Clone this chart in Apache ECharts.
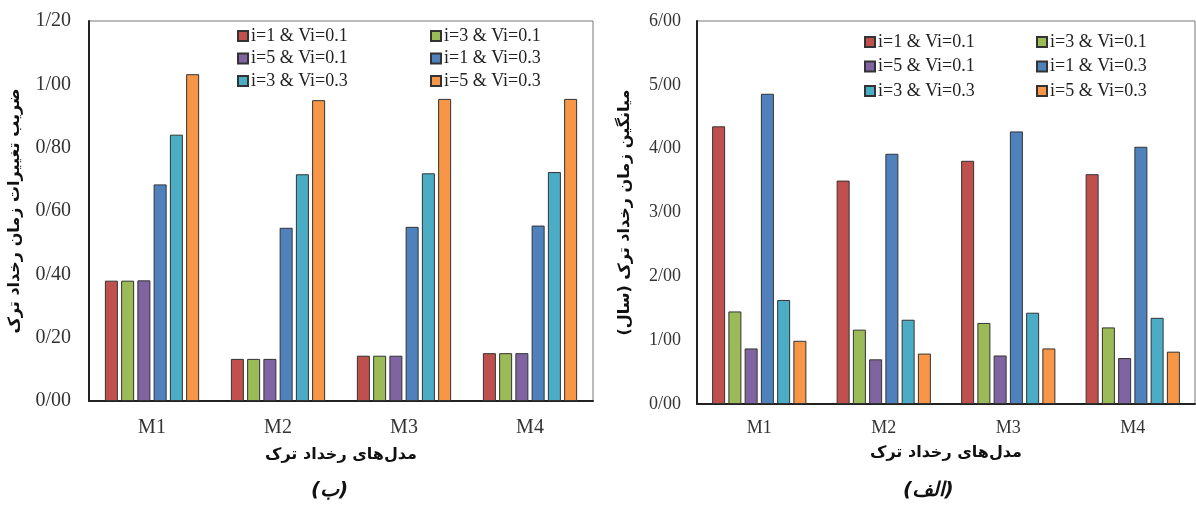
<!DOCTYPE html>
<html>
<head>
<meta charset="utf-8">
<script src="https://cdn.jsdelivr.net/npm/echarts@6/dist/echarts.min.js"></script>
<style>
  html, body { margin: 0; padding: 0; background: #fff; }
  #chart { width: 1196px; height: 507px; }
</style>
</head>
<body>
<div id="chart"></div>
<script>
// categories / series
const categories = ['M1', 'M2', 'M3', 'M4']
const seriesNames = ['i=1 & Vi=0.1', 'i=3 & Vi=0.1', 'i=5 & Vi=0.1', 'i=1 & Vi=0.3', 'i=3 & Vi=0.3', 'i=5 & Vi=0.3']
const barColors = ['#C0504D', '#9BBB59', '#8064A2', '#4F81BD', '#4BACC6', '#F79646']

// (ب) coefficient of variation
const cvS1 = [0.380, 0.133, 0.143, 0.151]
const cvS2 = [0.380, 0.133, 0.143, 0.151]
const cvS3 = [0.381, 0.133, 0.143, 0.151]
const cvS4 = [0.684, 0.547, 0.550, 0.554]
const cvS5 = [0.841, 0.716, 0.719, 0.723]
const cvS6 = [1.032, 0.950, 0.954, 0.954]

// (الف) mean time (years)
const meanS1 = [4.35, 3.50, 3.81, 3.60]
const meanS2 = [1.45, 1.165, 1.27, 1.20]
const meanS3 = [0.87, 0.70, 0.76, 0.72]
const meanS4 = [4.86, 3.92, 4.27, 4.03]
const meanS5 = [1.63, 1.32, 1.43, 1.35]
const meanS6 = [0.99, 0.79, 0.87, 0.82]

const cvData = [cvS1, cvS2, cvS3, cvS4, cvS5, cvS6]
const meanData = [meanS1, meanS2, meanS3, meanS4, meanS5, meanS6]

const serif = '"Liberation Serif", "Times New Roman", serif'
const farsi = '"DejaVu Sans", sans-serif'

const chart = echarts.init(document.getElementById('chart'))

function fmt(v) {
  return v.toFixed(2).replace('.', '/')
}

function makeSeries(data, idx) {
  return data.map((vals, i) => ({
    name: seriesNames[i],
    type: 'bar',
    xAxisIndex: idx,
    yAxisIndex: idx,
    barWidth: 13,
    barGap: '25%',
    itemStyle: {
      color: barColors[i],
      borderColor: '#333',
      borderWidth: 1
    },
    data: vals
  }))
}

function makeLegend(names, left, top, gap) {
  return {
    data: names,
    orient: 'vertical',
    left: left,
    top: top,
    icon: 'rect',
    itemWidth: 10,
    itemHeight: 10,
    itemGap: gap,
    textStyle: { fontFamily: serif, fontSize: 18, color: '#222', padding: [0, 0, 0, -2] }
  }
}

function xAxisCfg(idx, labelSize, margin, nameGap) {
  return {
    type: 'category',
    gridIndex: idx,
    data: categories,
    axisTick: { show: false },
    axisLine: { lineStyle: { color: '#222', width: 2 } },
    axisLabel: { fontFamily: serif, fontSize: labelSize, color: '#333', margin: margin },
    name: 'مدل‌های رخداد ترک',
    nameLocation: 'middle',
    nameGap: nameGap,
    nameTextStyle: { fontFamily: farsi, fontWeight: 'bold', fontSize: 16, color: '#111' }
  }
}

function yAxisCfg(idx, max, interval, labelSize, margin, name, nameGap) {
  return {
    type: 'value',
    gridIndex: idx,
    min: 0,
    max: max,
    interval: interval,
    splitLine: { show: false },
    axisTick: { show: false },
    axisLine: { show: true, lineStyle: { color: '#222', width: 2 } },
    axisLabel: { fontFamily: serif, fontSize: labelSize, color: '#333', margin: margin, formatter: fmt },
    name: name,
    nameLocation: 'middle',
    nameRotate: 90,
    nameGap: nameGap,
    nameTextStyle: { fontFamily: farsi, fontWeight: 'bold', fontSize: 16, color: '#111' }
  }
}

const option = {
  animation: false,
  grid: [
    { left: 89, top: 21, width: 504, height: 380, show: true, borderColor: '#777', borderWidth: 1 },
    { left: 697, top: 21, width: 498, height: 383, show: true, borderColor: '#777', borderWidth: 1 }
  ],
  legend: [
    makeLegend([seriesNames[0], seriesNames[2], seriesNames[4]], 232, 22, 4.5),
    makeLegend([seriesNames[1], seriesNames[3], seriesNames[5]], 425, 22, 4.5),
    makeLegend([seriesNames[0], seriesNames[2], seriesNames[4]], 859, 28, 6.5),
    makeLegend([seriesNames[1], seriesNames[3], seriesNames[5]], 1031, 28, 6.5)
  ],
  xAxis: [
    xAxisCfg(0, 20, 17, 46),
    xAxisCfg(1, 18, 15, 41)
  ],
  yAxis: [
    yAxisCfg(0, 1.2, 0.2, 20, 18, 'ضریب تغییرات زمان رخداد ترک', 66),
    yAxisCfg(1, 6, 1, 18, 16, 'میانگین زمان رخداد ترک (سال)', 64)
  ],
  graphic: [
    {
      type: 'text', left: 311, top: 481,
      style: { text: '(ب)', font: 'italic bold 20px "DejaVu Sans", sans-serif', fill: '#111' }
    },
    {
      type: 'text', left: 903, top: 481,
      style: { text: '(الف)', font: 'italic bold 20px "DejaVu Sans", sans-serif', fill: '#111' }
    }
  ],
  series: makeSeries(cvData, 0).concat(makeSeries(meanData, 1))
}

chart.setOption(option)
window.onresize = function() {
  chart.resize()
}
</script>
</body>
</html>
